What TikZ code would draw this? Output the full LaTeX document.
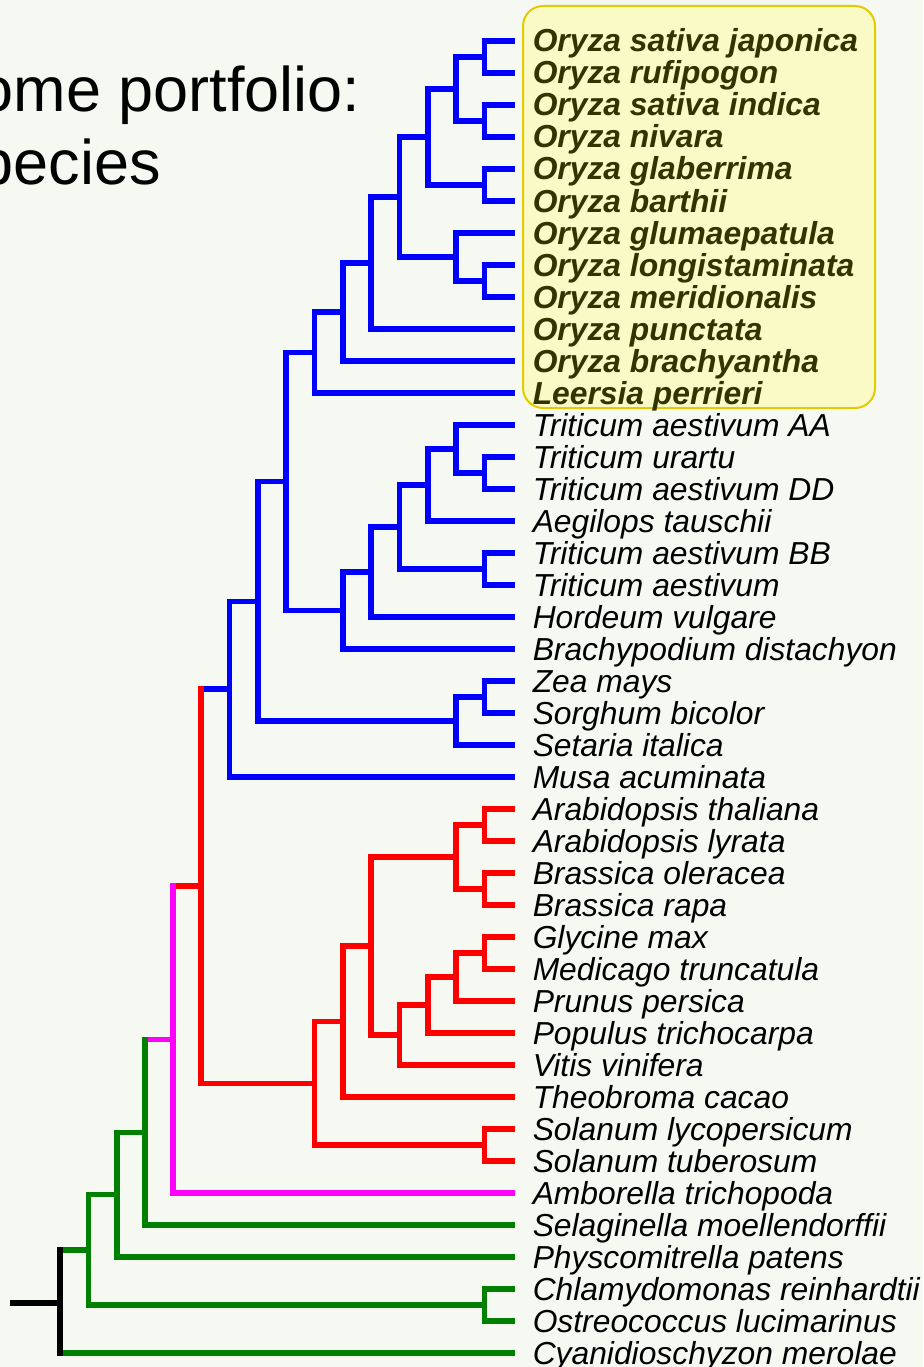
\documentclass[tikz,border=0pt]{standalone}
\usepackage{fontspec}
\setmainfont{Liberation Sans}
\usetikzlibrary{positioning}
\definecolor{bgcol}{HTML}{F6F9F2}
\definecolor{boxfill}{HTML}{FAFAC6}
\definecolor{boxedge}{HTML}{E0CC00}
\definecolor{ricetext}{HTML}{333300}
\definecolor{monocol}{RGB}{0,0,255}
\definecolor{eudicol}{RGB}{255,0,0}
\definecolor{ambocol}{RGB}{255,0,255}
\definecolor{grncol}{RGB}{0,128,0}

\begin{document}
\begin{tikzpicture}[
    x=1pt, y=-1pt,
    node distance=32pt,
    label distance=18pt,
    line width=5.5pt, line cap=rect, line join=miter,
    sp/.style={font=\fontsize{31.8}{32}\selectfont\itshape, inner sep=0pt, text height=27pt, text depth=5pt},
    rice/.style={sp, font=\fontsize{31.8}{32}\selectfont\bfseries\itshape, text=ricetext},
    title/.style={font=\fontsize{63}{73}\selectfont, anchor=base west, inner sep=0pt},
    hilite/.style={draw=boxedge, fill=boxfill, line width=2pt, rounded corners=20pt, minimum width=352pt, minimum height=402pt},
    mono/.style={draw=monocol},
    eudi/.style={draw=eudicol},
    ambo/.style={draw=ambocol},
    grn/.style={draw=grncol},
    stemline/.style={draw=black}
]
\useasboundingbox (0,0) rectangle (923,1367);
\fill[bgcol] (0,0) rectangle (923,1367);

\node[title] (head) at (-24,112) {ome portfolio:};
\node[title] (head2) at (-24,185) {pecies};

\node[hilite] (ricebox) at (699,207) {};

\coordinate[label={[rice]right:Oryza sativa japonica}] (jap) at (512,41);
\coordinate[below=of jap, label={[rice]right:Oryza rufipogon}] (ruf);
\coordinate[below=of ruf, label={[rice]right:Oryza sativa indica}] (ind);
\coordinate[below=of ind, label={[rice]right:Oryza nivara}] (niv);
\coordinate[below=of niv, label={[rice]right:Oryza glaberrima}] (glab);
\coordinate[below=of glab, label={[rice]right:Oryza barthii}] (bart);
\coordinate[below=of bart, label={[rice]right:Oryza glumaepatula}] (glum);
\coordinate[below=of glum, label={[rice]right:Oryza longistaminata}] (long);
\coordinate[below=of long, label={[rice]right:Oryza meridionalis}] (meri);
\coordinate[below=of meri, label={[rice]right:Oryza punctata}] (punc);
\coordinate[below=of punc, label={[rice]right:Oryza brachyantha}] (brac);
\coordinate[below=of brac, label={[rice]right:Leersia perrieri}] (leer);
\coordinate[below=of leer, label={[sp]right:Triticum aestivum AA}] (taa);
\coordinate[below=of taa, label={[sp]right:Triticum urartu}] (ura);
\coordinate[below=of ura, label={[sp]right:Triticum aestivum DD}] (tdd);
\coordinate[below=of tdd, label={[sp]right:Aegilops tauschii}] (aeg);
\coordinate[below=of aeg, label={[sp]right:Triticum aestivum BB}] (tbb);
\coordinate[below=of tbb, label={[sp]right:Triticum aestivum}] (tae);
\coordinate[below=of tae, label={[sp]right:Hordeum vulgare}] (hor);
\coordinate[below=of hor, label={[sp]right:Brachypodium distachyon}] (bdi);
\coordinate[below=of bdi, label={[sp]right:Zea mays}] (zea);
\coordinate[below=of zea, label={[sp]right:Sorghum bicolor}] (sor);
\coordinate[below=of sor, label={[sp]right:Setaria italica}] (set);
\coordinate[below=of set, label={[sp]right:Musa acuminata}] (mus);
\coordinate[below=of mus, label={[sp]right:Arabidopsis thaliana}] (ath);
\coordinate[below=of ath, label={[sp]right:Arabidopsis lyrata}] (aly);
\coordinate[below=of aly, label={[sp]right:Brassica oleracea}] (bol);
\coordinate[below=of bol, label={[sp]right:Brassica rapa}] (bra);
\coordinate[below=of bra, label={[sp]right:Glycine max}] (gly);
\coordinate[below=of gly, label={[sp]right:Medicago truncatula}] (med);
\coordinate[below=of med, label={[sp]right:Prunus persica}] (pru);
\coordinate[below=of pru, label={[sp]right:Populus trichocarpa}] (pop);
\coordinate[below=of pop, label={[sp]right:Vitis vinifera}] (vit);
\coordinate[below=of vit, label={[sp]right:Theobroma cacao}] (the);
\coordinate[below=of the, label={[sp]right:Solanum lycopersicum}] (sly);
\coordinate[below=of sly, label={[sp]right:Solanum tuberosum}] (stu);
\coordinate[below=of stu, label={[sp]right:Amborella trichopoda}] (amb);
\coordinate[below=of amb, label={[sp]right:Selaginella moellendorffii}] (sel);
\coordinate[below=of sel, label={[sp]right:Physcomitrella patens}] (phy);
\coordinate[below=of phy, label={[sp]right:Chlamydomonas reinhardtii}] (chl);
\coordinate[below=of chl, label={[sp]right:Ostreococcus lucimarinus}] (ost);
\coordinate[below=of ost, label={[sp]right:Cyanidioschyzon merolae}] (cya);

\coordinate (n1) at (484.5,57);
\coordinate (n2) at (484.5,121);
\coordinate (n3) at (456,89);
\coordinate (n4) at (484.5,185);
\coordinate (n5) at (428,137);
\coordinate (n6) at (484.5,281);
\coordinate (n7) at (456,257);
\coordinate (n8) at (399.5,197);
\coordinate (n9) at (371,263);
\coordinate (n10) at (343,312);
\coordinate (n11) at (314.5,352.5);
\coordinate (n12) at (484.5,473);
\coordinate (n13) at (456,449);
\coordinate (n14) at (428,485);
\coordinate (n15) at (484.5,569);
\coordinate (n16) at (399.5,527);
\coordinate (n17) at (371,572);
\coordinate (n18) at (343,610.5);
\coordinate (n19) at (286,481.5);
\coordinate (n20) at (484.5,697);
\coordinate (n21) at (456,721);
\coordinate (n22) at (258,601.25);
\coordinate (n23) at (229.5,689.1);
\coordinate (n24) at (484.5,825);
\coordinate (n25) at (484.5,889);
\coordinate (n26) at (456,857);
\coordinate (n27) at (484.5,953);
\coordinate (n28) at (456,977);
\coordinate (n29) at (428,1005);
\coordinate (n30) at (399.5,1035);
\coordinate (n31) at (371,946);
\coordinate (n32) at (343,1021.5);
\coordinate (n33) at (484.5,1145);
\coordinate (n34) at (314.5,1083.25);
\coordinate (n35) at (201,886.2);
\coordinate (n36) at (173,1039.6);
\coordinate (n37) at (145,1132.3);
\coordinate (n38) at (117,1194.6);
\coordinate (n39) at (484.5,1305);
\coordinate (n40) at (88.5,1249.8);
\coordinate (n41) at (60,1303);
\coordinate (stem) at (13,1303);

\draw[mono] (jap) -| (n1) |- (ruf);
\draw[mono] (ind) -| (n2) |- (niv);
\draw[mono] (n1) -| (n3) |- (n2);
\draw[mono] (glab) -| (n4) |- (bart);
\draw[mono] (n3) -| (n5) |- (n4);
\draw[mono] (long) -| (n6) |- (meri);
\draw[mono] (glum) -| (n7) |- (n6);
\draw[mono] (n5) -| (n8) |- (n7);
\draw[mono] (n8) -| (n9) |- (punc);
\draw[mono] (n9) -| (n10) |- (brac);
\draw[mono] (n10) -| (n11) |- (leer);
\draw[mono] (ura) -| (n12) |- (tdd);
\draw[mono] (taa) -| (n13) |- (n12);
\draw[mono] (n13) -| (n14) |- (aeg);
\draw[mono] (tbb) -| (n15) |- (tae);
\draw[mono] (n14) -| (n16) |- (n15);
\draw[mono] (n16) -| (n17) |- (hor);
\draw[mono] (n17) -| (n18) |- (bdi);
\draw[mono] (n11) -| (n19) |- (n18);
\draw[mono] (zea) -| (n20) |- (sor);
\draw[mono] (n20) -| (n21) |- (set);
\draw[mono] (n19) -| (n22) |- (n21);
\draw[mono] (n22) -| (n23) |- (mus);

\draw[eudi] (ath) -| (n24) |- (aly);
\draw[eudi] (bol) -| (n25) |- (bra);
\draw[eudi] (n24) -| (n26) |- (n25);
\draw[eudi] (gly) -| (n27) |- (med);
\draw[eudi] (n27) -| (n28) |- (pru);
\draw[eudi] (n28) -| (n29) |- (pop);
\draw[eudi] (n29) -| (n30) |- (vit);
\draw[eudi] (n26) -| (n31) |- (n30);
\draw[eudi] (n31) -| (n32) |- (the);
\draw[eudi] (sly) -| (n33) |- (stu);
\draw[eudi] (n32) -| (n34) |- (n33);

\draw[mono] (n23) -- (n35 |- n23);
\draw[eudi] (n35 |- n23) |- (n34);
\draw[eudi] (n35) -- (n36 |- n35);
\draw[ambo] (n36 |- n35) |- (amb);
\draw[ambo] (n36) -- (n37 |- n36);
\draw[grn] (n37 |- n36) |- (sel);
\draw[grn] (n37) -| (n38) |- (phy);
\draw[grn] (chl) -| (n39) |- (ost);
\draw[grn] (n38) -| (n40) |- (n39);
\draw[grn] (n40) -| (n41) |- (cya);
\draw[stemline] (n41 |- n40) -- (n41 |- cya);
\draw[stemline] (stem) -- (n41);
\end{tikzpicture}
\end{document}
